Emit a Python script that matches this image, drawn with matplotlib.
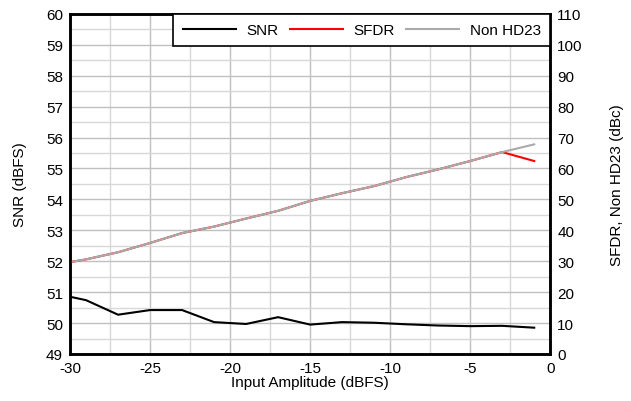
import matplotlib
matplotlib.use("Agg")
import matplotlib.pyplot as plt
from matplotlib.ticker import MultipleLocator

plt.rcParams['font.family'] = ['Liberation Sans', 'DejaVu Sans']
plt.rcParams['font.size'] = 11
plt.rcParams['axes.unicode_minus'] = False

# Input amplitude sweep (dBFS)
amp = [-30, -29, -27, -25, -23, -21, -19, -17, -15, -13, -11, -9, -7, -5, -3, -1]

# SNR (dBFS), left axis
snr = [50.85, 50.74, 50.27, 50.42, 50.42, 50.03, 49.97, 50.19, 49.95, 50.03,
       50.01, 49.96, 49.92, 49.90, 49.91, 49.85]

# SFDR and Non HD23 (dBc), right axis
sfdr = [29.7, 30.6, 32.9, 35.9, 39.1, 41.2, 43.8, 46.3, 49.5, 52.0,
        54.3, 57.2, 59.7, 62.4, 65.3, 62.4]
non_hd23 = [29.7, 30.6, 32.9, 35.9, 39.1, 41.2, 43.8, 46.3, 49.5, 52.0,
            54.3, 57.2, 59.7, 62.4, 65.3, 67.8]

fig = plt.figure(figsize=(6.31, 4.02), dpi=100)
ax = fig.add_axes([0.111, 0.117, 0.761, 0.846])
ax2 = ax.twinx()

# gridlines from the left axis
ax.set_xlim(-30, 0)
ax.set_ylim(49, 60)
ax.xaxis.set_major_locator(MultipleLocator(5))
ax.xaxis.set_minor_locator(MultipleLocator(2.5))
ax.yaxis.set_major_locator(MultipleLocator(1))
ax.yaxis.set_minor_locator(MultipleLocator(0.5))
ax.grid(which='major', color='#c0c0c0', linewidth=1.0)
ax.grid(which='minor', color='#d8d8d8', linewidth=1.0)
ax.set_axisbelow(True)
ax.tick_params(which='both', length=0, pad=5)

ax2.set_ylim(0, 110)
ax2.yaxis.set_major_locator(MultipleLocator(10))
ax2.tick_params(length=0, pad=5)

l1, = ax.plot(amp, snr, color='black', linewidth=1.5, label='SNR')
l2, = ax2.plot(amp, sfdr, color='red', linewidth=1.5, label='SFDR')
l3, = ax2.plot(amp, non_hd23, color='#aaaaaa', linewidth=1.5, label='Non HD23')

for a in (ax, ax2):
    for s in a.spines.values():
        s.set_linewidth(1.8)
        s.set_color('black')

ax.set_xlabel('Input Amplitude (dBFS)', labelpad=0)
ax.set_ylabel('SNR (dBFS)', labelpad=14)
ax2.set_ylabel('SFDR, Non HD23 (dBc)', labelpad=20)

leg = ax2.legend(handles=[l1, l2, l3], ncol=3, loc='upper right',
                 bbox_to_anchor=(1.0, 1.0), borderaxespad=0, fancybox=False,
                 framealpha=1, edgecolor='black', handlelength=3.5,
                 columnspacing=0.7, handletextpad=0.7, borderpad=0.6,
                 fontsize=11)
leg.get_frame().set_linewidth(1.2)

fig.savefig('out.png', dpi=100)
